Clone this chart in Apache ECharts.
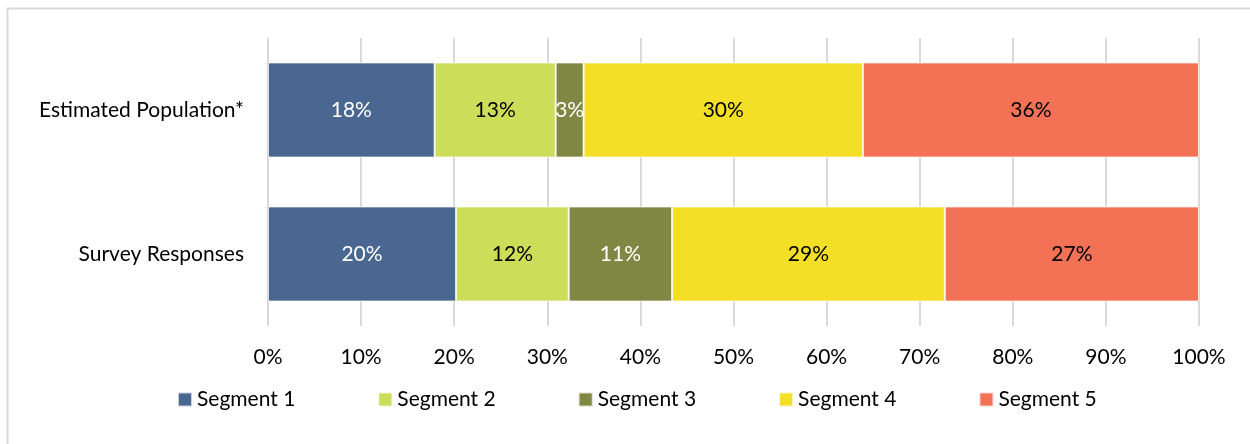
<!DOCTYPE html>
<html><head><meta charset="utf-8">
<style>html,body{margin:0;padding:0;background:#fff}#c{width:1250px;height:444px}</style>
<script src="https://cdn.jsdelivr.net/npm/echarts@6/dist/echarts.min.js"></script>
</head><body><div id="c"></div>
<script>
const categories = ['Estimated Population*', 'Survey Responses'];
const seriesNames = ['Segment 1', 'Segment 2', 'Segment 3', 'Segment 4', 'Segment 5'];
const segment1 = [17.9, 20.2];
const segment2 = [13.0, 12.1];
const segment3 = [3.0, 11.1];
const segment4 = [30.0, 29.3];
const segment5 = [36.1, 27.3];
const tickLabels = ['0%','10%','20%','30%','40%','50%','60%','70%','80%','90%','100%'];
const colors = ['#4a6791', '#ccdd5a', '#7f8842', '#f4df27', '#f37256'];
const labelColors = ['#ffffff', '#000000', '#ffffff', '#000000', '#000000'];
const values = [segment1, segment2, segment3, segment4, segment5];
const FONT = 'Lato, "Open Sans", sans-serif';
const FS = 21;

const chart = echarts.init(document.getElementById('c'));
chart.setOption({
  animation: false,
  textStyle: { fontFamily: FONT },
  graphic: [{
    type: 'rect', silent: true,
    shape: { x: 7.5, y: 8.5, width: 1400, height: 600 },
    style: { fill: 'none', stroke: '#d9d9d9', lineWidth: 2 }
  }],
  grid: { left: 268, right: 51, top: 38, bottom: 118 },
  legend: {
    top: 384, left: 172,
    itemWidth: 14, itemHeight: 14, itemGap: 82,
    icon: 'rect',
    textStyle: { fontSize: FS, color: '#000', fontFamily: FONT },
    data: seriesNames
  },
  xAxis: {
    type: 'value', min: 0, max: 100, interval: 10,
    axisLine: { show: false }, axisTick: { show: false },
    splitLine: { show: true, lineStyle: { color: '#d9d9d9', width: 2 } },
    axisLabel: {
      margin: 21, fontSize: FS, color: '#000', fontFamily: FONT,
      formatter: function (v) { return tickLabels[Math.round(v / 10)]; }
    }
  },
  yAxis: {
    type: 'category', data: categories, inverse: true,
    axisLine: { show: false }, axisTick: { show: false },
    axisLabel: { margin: 24, fontSize: FS, color: '#000', fontFamily: FONT }
  },
  series: seriesNames.map(function (name, i) {
    return {
      name: name, type: 'bar', stack: 'total',
      barCategoryGap: '34%',
      data: values[i],
      itemStyle: { color: colors[i], borderColor: 'rgba(255,255,255,0.7)', borderWidth: 1 },
      label: {
        show: true, position: 'inside', fontSize: FS, color: labelColors[i], fontFamily: FONT,
        formatter: function (p) { return Math.round(p.value) + '%'; }
      }
    };
  })
});
</script></body></html>
